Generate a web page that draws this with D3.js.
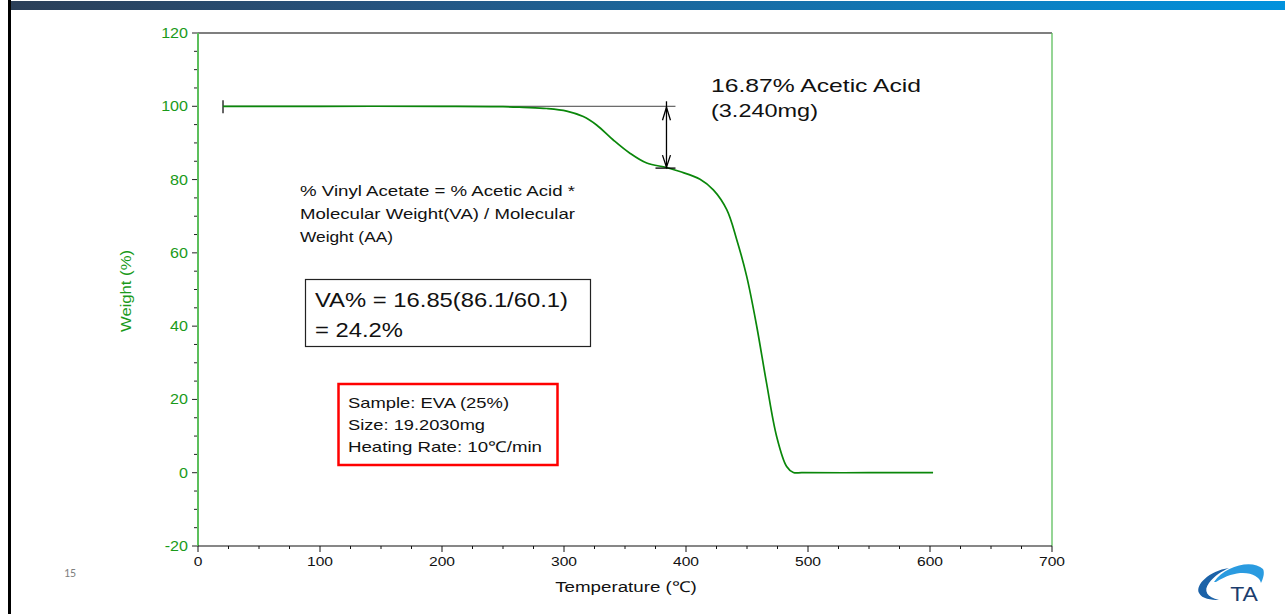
<!DOCTYPE html>
<html>
<head>
<meta charset="utf-8">
<script src="https://cdn.jsdelivr.net/npm/d3@7"></script>
<style>
  body { margin: 0; background: #fff; }
  svg { display: block; font-family: "Liberation Sans", Arial, sans-serif; }
</style>
</head>
<body>
<svg id="chart" width="1285" height="614"></svg>
<script>
// TGA curve of EVA (25%)
const temperature = [20.5, 100, 200, 250, 266.7, 285.8, 302.2, 315.8, 326.7, 340.4, 354, 367.8, 384, 395, 411.5, 422.4, 433.4, 441.6, 449.8, 458, 466, 474.3, 482.5, 488, 495, 550, 602.5];
const weight      = [100, 100, 100, 99.9, 99.7, 99.4, 98.7, 97.2, 94.9, 90.8, 87.2, 84.5, 83.3, 82.2, 80.1, 77.2, 71.8, 63.6, 53.5, 39.9, 24.5, 9.9, 1.7, 0.05, 0, 0, 0];

const xTicks = [0, 100, 200, 300, 400, 500, 600, 700];
const yTicks = [-20, 0, 20, 40, 60, 80, 100, 120];

const stepStart = 20.5, stepTemp = 384, stepTop = 100, stepBottom = 83.13;

const svg = d3.select('#chart');

// the source picture is stretched sideways, so text gets a horizontal scale
function label(parent, px, py, str, size, fill, anchor, sx) {
  return parent.append('text')
    .attr('transform', `translate(${px},${py}) scale(${sx || 1.2},1)`)
    .attr('text-anchor', anchor || 'start')
    .attr('font-size', size).attr('fill', fill || '#111').text(str);
}
function fitted(parent, px, py, str, size, len) {
  return parent.append('text').attr('x', px).attr('y', py)
    .attr('font-size', size).attr('fill', '#111')
    .attr('textLength', len).attr('lengthAdjust', 'spacingAndGlyphs').text(str);
}

// slide decoration
const grad = svg.append('defs').append('linearGradient').attr('id', 'bar');
grad.append('stop').attr('offset', '0%').attr('stop-color', '#2b3f58');
grad.append('stop').attr('offset', '30%').attr('stop-color', '#265480');
grad.append('stop').attr('offset', '100%').attr('stop-color', '#0192dd');
svg.append('rect').attr('x', 10).attr('y', 1).attr('width', 1275).attr('height', 9).attr('fill', 'url(#bar)');
svg.append('rect').attr('x', 8).attr('y', 0).attr('width', 3).attr('height', 614).attr('fill', '#000');
svg.append('text').attr('x', 70).attr('y', 577).attr('text-anchor', 'middle')
  .attr('font-family', 'Carlito, "Open Sans", sans-serif').attr('font-size', 12).attr('fill', '#7f7f7f').text('15');

const x = d3.scaleLinear().domain([0, 700]).range([198, 1052]);
const y = d3.scaleLinear().domain([-20, 120]).range([546, 33]);

// frame
svg.append('line').attr('x1', 198).attr('x2', 1052).attr('y1', 33).attr('y2', 33).attr('stroke', '#000').attr('stroke-width', 1.2);
svg.append('line').attr('x1', 1052).attr('x2', 1052).attr('y1', 33).attr('y2', 546).attr('stroke', '#5cbf5c').attr('stroke-width', 1.3);

// y axis
const yAxis = svg.append('g').attr('transform', 'translate(198,0)');
yAxis.selectAll('.minor').data(d3.range(-20, 121, 5)).join('line')
  .attr('x1', d => d % 20 === 0 ? -6 : -4).attr('x2', 0)
  .attr('y1', d => y(d)).attr('y2', d => y(d)).attr('stroke', '#222').attr('stroke-width', 1);
yAxis.append('line').attr('y1', 33).attr('y2', 546).attr('stroke', '#5cbf5c').attr('stroke-width', 2);
yTicks.forEach(d => label(yAxis, -10, y(d) + 5, d, 14, '#1a9a1a', 'end', 1.15));
svg.append('text').attr('transform', 'translate(131,291) rotate(-90)').attr('text-anchor', 'middle')
  .attr('font-size', 15).attr('fill', '#1a9a1a')
  .attr('textLength', 82).attr('lengthAdjust', 'spacingAndGlyphs').text('Weight (%)');

// x axis
const xAxis = svg.append('g').attr('transform', 'translate(0,546)');
xAxis.append('line').attr('x1', 198).attr('x2', 1052).attr('stroke', '#111').attr('stroke-width', 1.2);
xAxis.selectAll('.tk').data(d3.range(0, 701, 25)).join('line')
  .attr('x1', d => x(d)).attr('x2', d => x(d)).attr('y1', 0).attr('y2', d => d % 100 === 0 ? 6 : 3)
  .attr('stroke', '#111').attr('stroke-width', 1);
xTicks.forEach(d => label(xAxis, x(d), 20, d, 13, '#111', 'middle', 1.2));
label(svg, 626, 592, 'Temperature (\u2103)', 15, '#111', 'middle', 1.25);

// step annotation baseline
svg.append('line').attr('x1', x(stepStart)).attr('x2', x(stepTemp) + 9).attr('y1', y(stepTop)).attr('y2', y(stepTop))
  .attr('stroke', '#444').attr('stroke-width', 1);
svg.append('line').attr('x1', x(stepStart)).attr('x2', x(stepStart)).attr('y1', y(stepTop) - 6).attr('y2', y(stepTop) + 7)
  .attr('stroke', '#333').attr('stroke-width', 1.5);

// curve
const line = d3.line().x((d, i) => x(temperature[i])).y(d => y(d)).curve(d3.curveCatmullRom.alpha(0.5));
svg.append('path').datum(weight).attr('d', line).attr('fill', 'none').attr('stroke', '#0a870a').attr('stroke-width', 1.7);

// double arrow
const ax = x(stepTemp), yt = y(stepTop), yb = y(stepBottom);
svg.append('line').attr('x1', ax).attr('x2', ax).attr('y1', yt).attr('y2', yb).attr('stroke', '#000').attr('stroke-width', 1.3);
svg.append('line').attr('x1', ax - 11).attr('x2', ax + 9).attr('y1', yb).attr('y2', yb).attr('stroke', '#000').attr('stroke-width', 1.3);
svg.append('line').attr('x1', ax).attr('x2', ax).attr('y1', yt - 5).attr('y2', yt).attr('stroke', '#000').attr('stroke-width', 1.3);
svg.append('path').attr('d', `M${ax - 4},${yt + 14}L${ax},${yt + 1}L${ax + 4},${yt + 14}`).attr('fill', 'none').attr('stroke', '#000').attr('stroke-width', 1.3);
svg.append('path').attr('d', `M${ax - 4},${yb - 13}L${ax},${yb - 1}L${ax + 4},${yb - 13}`).attr('fill', 'none').attr('stroke', '#000').attr('stroke-width', 1.3);

fitted(svg, 711, 92, '16.87% Acetic Acid', 19, 210);
fitted(svg, 711, 117, '(3.240mg)', 19, 107);

fitted(svg, 300, 196, '% Vinyl Acetate = % Acetic Acid *', 15, 275);
fitted(svg, 300, 219, 'Molecular Weight(VA) / Molecular', 15, 275);
fitted(svg, 300, 242, 'Weight (AA)', 15, 93);

svg.append('rect').attr('x', 305.5).attr('y', 279.5).attr('width', 285).attr('height', 67)
  .attr('fill', '#fff').attr('stroke', '#222').attr('stroke-width', 1.2);
fitted(svg, 315, 307, 'VA% = 16.85(86.1/60.1)', 21, 253);
fitted(svg, 315, 337, '= 24.2%', 21, 88);

svg.append('rect').attr('x', 338.5).attr('y', 384).attr('width', 219).attr('height', 81)
  .attr('fill', '#fff').attr('stroke', '#f00').attr('stroke-width', 2.5);
fitted(svg, 348, 408, 'Sample: EVA (25%)', 15, 161);
fitted(svg, 348, 430, 'Size: 19.2030mg', 15, 137);
fitted(svg, 348, 452, 'Heating Rate: 10\u2103/min', 15, 194);

// TA logo
const logo = svg.append('g').attr('transform', 'translate(1197,563)');
logo.append('path').attr('d', 'M32,5 C12,8 -2,22 2,30 C5,36 14,37 22,37 C10,34 6,28 12,20 C17,13 25,8 32,5Z').attr('fill', '#1b62a8');
logo.append('path').attr('d', 'M17,19 C28,2 56,-4 66,6 C68,10 66,16 64,20 C62,10 42,4 19,19Z').attr('fill', '#2a9be0');
label(logo, 47, 38, 'TA', 20, '#1b3d6d', 'middle', 1.15);
</script>
</body>
</html>
